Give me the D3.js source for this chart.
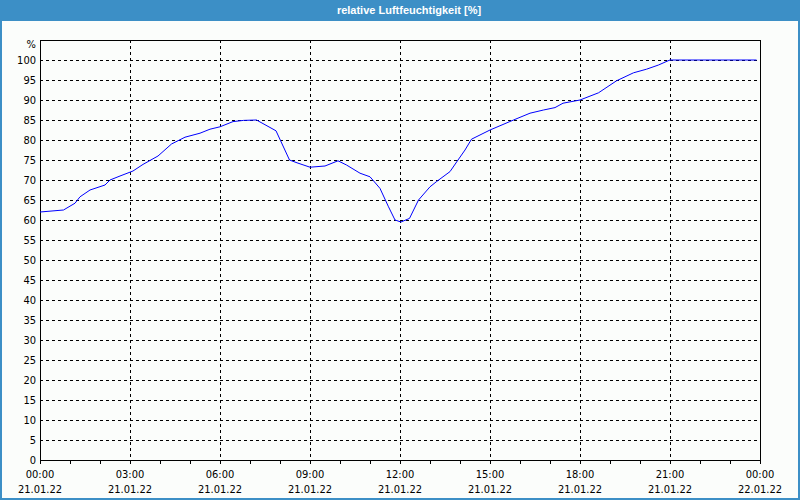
<!DOCTYPE html>
<html>
<head>
<meta charset="utf-8">
<script src="https://cdn.jsdelivr.net/npm/d3@7"></script>
<style>
  html, body { margin: 0; padding: 0; background: #ffffff; }
  svg { display: block; }
  .lbl { font-family: "Liberation Sans Narrow", "DejaVu Sans Condensed", "Liberation Sans", sans-serif; font-size: 11px; fill: #000; }
  .title { font-family: "Liberation Sans", Arial, sans-serif; font-weight: bold; font-size: 11px; fill: #ffffff; }
</style>
</head>
<body>
<svg id="chart" width="800" height="500"></svg>
<script>
// ---- data ----
const chartTitle = "relative Luftfeuchtigkeit [%]";
const unitLabel = "%";
const day = "2022-01-21";
const times = ["00:00","00:47","01:10","01:20","01:40","02:10","02:20","02:40","03:06","03:26",
  "03:56","04:23","04:50","05:20","05:40","06:00","06:26","06:47","07:13","07:52",
  "08:19","08:34","09:00","09:30","09:56","10:13","10:40","11:00","11:20","11:37",
  "11:50","12:02","12:19","12:37","13:00","13:13","13:40","13:56","14:10","14:23",
  "15:00","15:47","16:20","16:47","17:10","17:26","18:00","18:37","19:13","19:47",
  "20:13","20:37","20:56","21:00","23:53"];
const humidity = [62.0,62.5,64.2,65.8,67.5,68.75,70.0,71.0,72.25,73.9,
  76.0,79.0,80.7,81.7,82.7,83.3,84.6,84.9,85.0,82.3,
  75.0,74.3,73.2,73.5,74.8,73.75,71.7,70.8,67.9,63.3,
  60.0,59.5,60.4,65.0,68.3,69.6,72.1,75.0,77.5,80.2,
  82.5,85.0,86.7,87.5,88.1,89.2,90.0,91.8,94.8,96.8,
  97.7,98.75,99.8,100,100];
const yTicks = [0,5,10,15,20,25,30,35,40,45,50,55,60,65,70,75,80,85,90,95,100];
const yMax = 105;

// ---- layout ----
const svg = d3.select("#chart");
const W = 800, H = 500;
const m = {left: 40, right: 40, top: 40, bottom: 40};
const parse = d3.timeParse("%Y-%m-%d %H:%M");
const t0 = parse(day + " 00:00");
const t1 = d3.timeDay.offset(t0, 1);
const data = times.map((t, i) => ({t: parse(day + " " + t), v: humidity[i]}));

const x = d3.scaleTime().domain([t0, t1]).range([m.left, W - m.right]);
const y = d3.scaleLinear().domain([0, yMax]).range([H - m.bottom, m.top]);

// frame
svg.append("rect").attr("x", 0).attr("y", 0).attr("width", W).attr("height", H).attr("fill", "#3c8fc6");
svg.append("rect").attr("x", 2).attr("y", 21).attr("width", W - 4).attr("height", H - 23).attr("fill", "#fbfdfb");
svg.append("text").attr("class", "title").attr("x", 409).attr("y", 13.5)
  .attr("text-anchor", "middle").text(chartTitle);

// grid
const g = svg.append("g").attr("shape-rendering", "crispEdges");
const majorTicks = x.ticks(d3.timeHour.every(3));
g.selectAll("line.vg").data(majorTicks.filter(d => +d !== +t0 && +d !== +t1)).join("line")
  .attr("x1", d => x(d) + 0.5).attr("x2", d => x(d) + 0.5)
  .attr("y1", y(yMax)).attr("y2", y(0))
  .attr("stroke", "#000").attr("stroke-dasharray", "3,3");
g.selectAll("line.hg").data(yTicks.filter(d => d > 0)).join("line")
  .attr("x1", x(t0)).attr("x2", x(t1))
  .attr("y1", d => y(d) + 0.5).attr("y2", d => y(d) + 0.5)
  .attr("stroke", "#000").attr("stroke-dasharray", "3,3");

// hour ticks below axis
const hourTicks = x.ticks(d3.timeHour.every(1));
g.selectAll("line.ht").data(hourTicks).join("line")
  .attr("x1", d => x(d) + 0.5).attr("x2", d => x(d) + 0.5)
  .attr("y1", y(0)).attr("y2", y(0) + 4)
  .attr("stroke", "#000");

// plot border
g.append("rect").attr("x", x(t0) + 0.5).attr("y", y(yMax) + 0.5)
  .attr("width", x(t1) - x(t0)).attr("height", y(0) - y(yMax))
  .attr("fill", "none").attr("stroke", "#000");

// y labels
svg.selectAll("text.yl").data(yTicks).join("text").attr("class", "lbl")
  .attr("x", 36).attr("y", d => y(d) + 4).attr("text-anchor", "end").text(d => d);
svg.append("text").attr("class", "lbl").attr("x", 36).attr("y", 48)
  .attr("text-anchor", "end").text(unitLabel);

// x labels
const fTime = d3.timeFormat("%H:%M"), fDate = d3.timeFormat("%d.%m.%y");
svg.selectAll("text.xl1").data(majorTicks).join("text").attr("class", "lbl")
  .attr("x", d => x(d)).attr("y", 478).attr("text-anchor", "middle").text(fTime);
svg.selectAll("text.xl2").data(majorTicks).join("text").attr("class", "lbl")
  .attr("x", d => x(d)).attr("y", 493).attr("text-anchor", "middle").text(fDate);

// line
const line = d3.line().x(d => x(d.t)).y(d => y(d.v));
svg.append("path").datum(data).attr("d", line)
  .attr("fill", "none").attr("stroke", "#0000ff").attr("stroke-width", 1);
</script>
</body>
</html>
